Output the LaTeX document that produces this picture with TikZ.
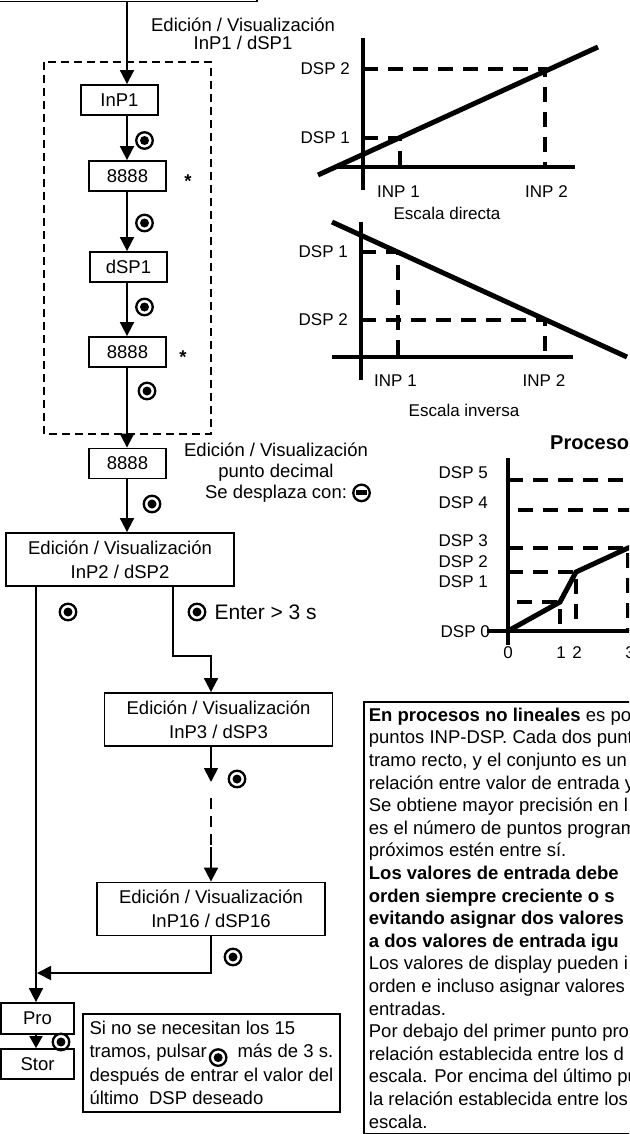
\documentclass[tikz,border=0pt]{standalone}
\usepackage{fontspec}
\setmainfont{Liberation Sans}
\usetikzlibrary{arrows.meta,positioning}

\tikzset{
  flow/.style={line width=1.8pt,-{Triangle[width=14pt,length=14pt]}},
  smallbox/.style={draw,line width=1.8pt,minimum width=77pt,minimum height=30pt},
  widebox/.style={draw,line width=1.8pt,minimum width=228pt,minimum height=53pt,align=center,font=\fontsize{18.5}{24}\selectfont},
  okkey/.style={circle,draw,line width=2.3pt,minimum size=16.5pt,inner sep=0pt,
    path picture={\fill (path picture bounding box.center) circle (4.5pt);}},
  minuskey/.style={circle,draw,line width=2.3pt,minimum size=16.5pt,inner sep=0pt,
    path picture={\fill ([shift={(-5.5pt,-2.4pt)}]path picture bounding box.center) rectangle ([shift={(5.5pt,2.4pt)}]path picture bounding box.center);}},
  graphaxis/.style={line width=4.5pt},
  graphline/.style={line width=5pt},
  guideline/.style={line width=4pt,dash pattern=on 15pt off 10pt},
  lbl/.style={font=\fontsize{17}{20}\selectfont},
  groupframe/.style={line width=1.8pt,dash pattern=on 8pt off 5pt}
}
\newcommand{\okkey}{\tikz[baseline=-6.5pt]\node[okkey]{};}
\newcommand{\minuskey}{\tikz[baseline=-6pt]\node[minuskey]{};}

\begin{document}
\begin{tikzpicture}[x=1pt,y=1pt,every node/.append style={font=\fontsize{18.5}{22.6}\selectfont}]
	\tikzstyle{every node}+=[inner sep=0pt]
	\clip (0,0) rectangle (629,-1134);
	\coordinate (colA) at (127,0);
	\coordinate (colB) at (36,0);
	\coordinate (colC) at (173,0);
	\coordinate (colD) at (211,0);
	\coordinate (bend) at (211,-656);
	\coordinate (skipA) at (211,-782);
	\coordinate (skipB) at (211,-847);
	\coordinate (merge) at (37,-973);

	\node[draw,line width=1.8pt,minimum width=259pt,minimum height=40pt,anchor=south] (top) at (127.5,-2.4) {};
	\node[align=center,font=\fontsize{18.5}{18}\selectfont] (lblA) at (243,-34) {Edición / Visualización\\InP1 / dSP1};
	\draw[groupframe] (44,-62) rectangle (211,-434);
	\node[smallbox] (inp1) at (119.5,-100) {InP1};
	\node[smallbox] (val1) at (127.5,-176) {8888};
	\node[smallbox] (dsp1) at (128.5,-267) {dSP1};
	\node[smallbox] (val2) at (127.5,-352) {8888};
	\node[smallbox] (dec) at (127.5,-463.5) {8888};
	\node[anchor=base] (ast1) at (188,-188) {\textbf{*}};
	\node[anchor=base] (ast2) at (183,-363) {\textbf{*}};
	\node[align=center,font=\fontsize{18.5}{21}\selectfont] (lblB) at (276,-473) {Edición / Visualización\\punto decimal\\Se desplaza con:\rlap{\ \minuskey}};
	\node[widebox] (inp2) at (120,-559.5) {Edición / Visualización\\InP2 / dSP2};
	\node[widebox] (inp3) at (218.5,-719.5) {Edición / Visualización\\InP3 / dSP3};
	\node[widebox] (inp16) at (211,-909) {Edición / Visualización\\InP16 / dSP16};
	\node[smallbox,minimum width=73pt,minimum height=31pt] (pro) at (37.5,-1018.5) {Pro};
	\node[smallbox,minimum width=73pt] (stor) at (37.5,-1064) {Stor};

	\node[okkey] (k1) at (144.5,-140.5) {};
	\node[okkey] (k2) at (144.5,-223) {};
	\node[okkey] (k3) at (144.5,-307) {};
	\node[okkey] (k4) at (147,-391) {};
	\node[okkey] (k5) at (152,-504) {};
	\node[okkey] (k6) at (68,-612) {};
	\node[okkey] (k7) at (197,-612) {};
	\node[right=8pt of k7,font=\fontsize{21}{24}\selectfont] (enter) {Enter > 3 s};
	\node[okkey] (k8) at (237,-779) {};
	\node[okkey] (k9) at (233,-957) {};
	\node[okkey] (k10) at (61,-1042) {};

	\draw[flow] (top.south -| colA) -- (inp1.north -| colA);
	\draw[flow] (inp1.south -| colA) -- (val1.north -| colA);
	\draw[flow] (val1.south -| colA) -- (dsp1.north -| colA);
	\draw[flow] (dsp1.south -| colA) -- (val2.north -| colA);
	\draw[flow] (val2.south -| colA) -- (dec.north -| colA);
	\draw[flow] (dec.south -| colA) -- (inp2.north -| colA);
	\draw[flow] (inp2.south -| colB) -- (pro.north -| colB);
	\draw[flow] (inp2.south -| colC) |- (bend) -- (inp3.north -| colD);
	\draw[flow] (inp3.south -| colD) -- (skipA);
	\draw[line width=1.5pt,dash pattern=on 11pt off 7pt] ([yshift=-16pt]skipA) -- (skipB);
	\draw[flow] (skipB) -- (inp16.north -| colD);
	\draw[flow] (inp16.south -| colD) |- (merge);
	\draw[line width=1.8pt,-{Triangle[width=13pt,length=12pt]}] (pro.south -| colB) -- (stor.north -| colB);

	\node[draw,line width=1.8pt,anchor=north west,align=left,minimum width=257pt,minimum height=98pt,font=\fontsize{18.5}{22.5}\selectfont] (note) at (82,-1013) {Si no se necesitan los 15\\tramos, pulsar\hspace{2pt}\okkey\hspace{10pt}más de 3 s.\\después de entrar el valor del\\último\ \ DSP deseado};

	\node[draw,line width=1.8pt,anchor=north west,align=left,inner xsep=5pt,inner ysep=6pt] (expl) at (363,-701) {\textbf{En procesos no lineales} es po\\puntos INP-DSP. Cada dos punt\\tramo recto, y el conjunto es un\\relación entre valor de entrada y\\Se obtiene mayor precisión en l\\es el número de puntos program\\próximos estén entre sí.\\\textbf{Los valores de entrada debe}\\\textbf{orden siempre\ creciente o s}\\\textbf{evitando asignar dos valores}\\\textbf{a dos valores de entrada igu}\\Los valores de display pueden i\\orden e incluso asignar\ valores\\entradas.\\Por debajo del primer punto pro\\relación\ establecida entre los d\\escala. Por encima del último pu\\la relación establecida entre los\\escala.};

	\draw[graphaxis] (363,-38) -- (363,-190);
	\draw[graphaxis] (335,-167) -- (575,-167);
	\draw[guideline] (363,-69) -- (545,-69) -- (545,-167);
	\draw[guideline] (363,-138) -- (400,-138) -- (400,-167);
	\draw[graphline] (318,-175) -- (598,-47);
	\node[lbl,anchor=east] (dA2) at (350,-69) {DSP 2};
	\node[lbl,anchor=east] (dA1) at (350,-138) {DSP 1};
	\node[lbl] (iA1) at (398.5,-192) {INP 1};
	\node[lbl] (iA2) at (546.5,-192) {INP 2};
	\node[lbl] (capA) at (447,-213) {Escala directa};

	\draw[graphaxis] (361,-222) -- (361,-380);
	\draw[graphaxis] (332,-357) -- (573,-357);
	\draw[guideline] (361,-252) -- (398,-252) -- (398,-357);
	\draw[guideline] (361,-320) -- (545,-320) -- (545,-357);
	\draw[graphline] (332,-222) -- (627,-357);
	\node[lbl,anchor=east] (dB1) at (348,-252) {DSP 1};
	\node[lbl,anchor=east] (dB2) at (348,-320) {DSP 2};
	\node[lbl] (iB1) at (395.5,-381) {INP 1};
	\node[lbl] (iB2) at (544,-381) {INP 2};
	\node[lbl] (capB) at (464,-410) {Escala inversa};

	\node[anchor=west,font=\bfseries\fontsize{20}{22}\selectfont] (capC) at (550,-443) {Proceso};
	\draw[graphaxis] (508,-458) -- (508,-645);
	\draw[graphaxis] (487,-631) -- (640,-631);
	\draw[guideline] (508,-480) -- (640,-480);
	\draw[guideline] (518,-510) -- (640,-510);
	\draw[guideline] (508,-548) -- (628,-548) -- (628,-631);
	\draw[guideline] (508,-572) -- (576,-572) -- (576,-631);
	\draw[guideline] (517,-602) -- (560,-602) -- (560,-631);
	\draw[graphline] (508,-631) -- (560,-602) -- (576,-572) -- (628,-548) -- (645,-544);
	\node[lbl,anchor=east] (dC5) at (488,-473) {DSP 5};
	\node[lbl,anchor=east] (dC4) at (488,-503) {DSP 4};
	\node[lbl,anchor=east] (dC3) at (488,-541) {DSP 3};
	\node[lbl,anchor=east] (dC2) at (488,-562) {DSP 2};
	\node[lbl,anchor=east] (dC1) at (488,-582) {DSP 1};
	\node[lbl,anchor=east] (dC0) at (490,-632) {DSP 0};
	\node[lbl] (iC0) at (508,-653) {0};
	\node[lbl] (iC1) at (561,-653) {1};
	\node[lbl] (iC2) at (577,-653) {2};
	\node[lbl] (iC3) at (630,-653) {3};
\end{tikzpicture}
\end{document}
